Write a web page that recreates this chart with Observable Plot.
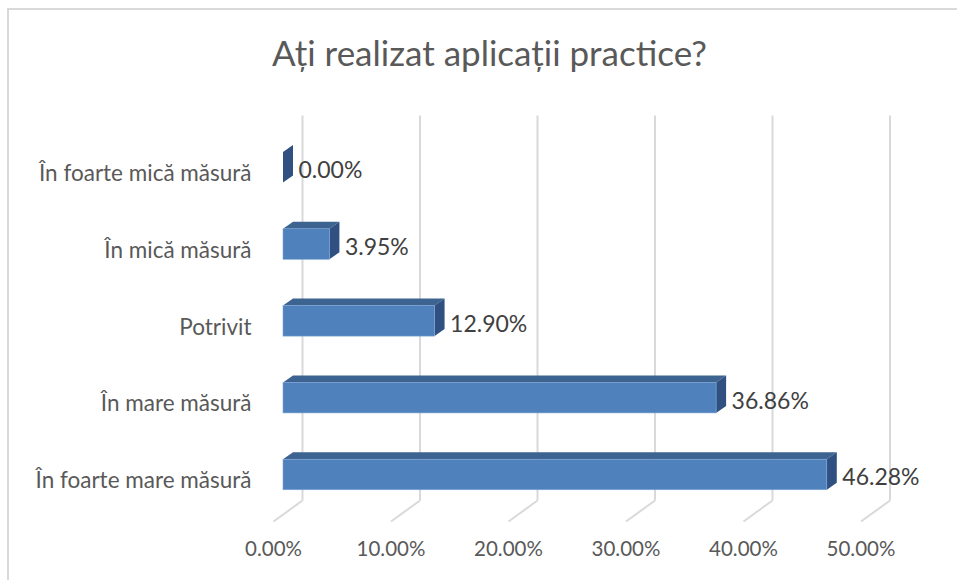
<!DOCTYPE html>
<html>
<head>
<meta charset="utf-8">
<script src="https://cdn.jsdelivr.net/npm/d3@7"></script>
<script src="https://cdn.jsdelivr.net/npm/@observablehq/plot@0.6"></script>
<style>
  html, body { margin: 0; padding: 0; background: #fff; }
  #wrap { position: relative; width: 957px; height: 580px; overflow: hidden; background: #fff; }
  #bl { position: absolute; left: 7px; top: 8px; width: 2px; height: 580px; background: #d9d9d9; }
  #bt { position: absolute; left: 7px; top: 8px; width: 960px; height: 2px; background: #d9d9d9; }
  #title { position: relative; height: 96px; box-sizing: border-box; padding-top: 35px; padding-left: 22px;
           text-align: center; font-family: Lato, sans-serif; font-size: 35px; line-height: 35px; color: #595959; }
  #chart svg { display: block; }
</style>
</head>
<body>
<div id="wrap">
  <div id="bl"></div><div id="bt"></div>
  <div id="title">Ați realizat aplicații practice?</div>
  <div id="chart"></div>
</div>
<script>
const categories = ["În foarte mică măsură", "În mică măsură", "Potrivit", "În mare măsură", "În foarte mare măsură"];
const values = [0.00, 3.95, 12.90, 36.86, 46.28];
const ticks = [0, 10, 20, 30, 40, 50];
const tickLabels = ["0.00%", "10.00%", "20.00%", "30.00%", "40.00%", "50.00%"];

// geometry helpers (pixel -> data units for the fixed scales below)
const X0 = 283, X1 = 870.5, Y0 = 71.2, Y1 = 378.5;
const kx = (X1 - X0) / 50, ky = (Y1 - Y0) / 4;
const yAt = py => (py - 96 - Y0) / ky;   // page y -> y data
const half = 15.25 / ky;                 // half bar height
const dxU = 10 / kx, dyU = 7 / ky;       // bar depth
const backU = 19 / kx;                   // back wall offset
const floorU = 10 / kx;                  // front floor offset

const bars = categories.map((c, i) => ({c, i, v: values[i]}));
const topFaces = bars.flatMap(d => [
  {id: d.i, y: d.i - half, x1: 0, x2: d.v},
  {id: d.i, y: d.i - half - dyU, x1: dxU, x2: d.v + dxU}
]);
const sideFaces = bars.flatMap(d => [
  {id: d.i, x: d.v, y1: d.i + half, y2: d.i - half},
  {id: d.i, x: d.v + dxU, y1: d.i + half - dyU, y2: d.i - half - dyU}
]);
const tickData = ticks.map((t, k) => ({t, label: tickLabels[k]}));

const gTop = yAt(115), gBot = yAt(500), gFloor = yAt(521), gLab = yAt(549);

const chart = Plot.plot({
  width: 957,
  height: 484,
  margin: 0,
  x: {domain: [0, 50], range: [X0, X1], axis: null},
  y: {domain: [0, 4], range: [Y0, Y1], axis: null},
  style: {fontFamily: "Lato, sans-serif", background: "transparent", overflow: "visible"},
  marks: [
    Plot.link(tickData, {x1: d => d.t + backU, x2: d => d.t + backU, y1: gTop, y2: gBot, stroke: "#d9d9d9", strokeWidth: 2}),
    Plot.link(tickData, {x1: d => d.t + backU, x2: d => d.t - floorU, y1: gBot, y2: gFloor, stroke: "#d9d9d9", strokeWidth: 2}),
    Plot.text(tickData, {x: d => d.t - floorU, y: gLab, text: "label", fill: "#595959", fontSize: 20.5}),
    Plot.text(bars, {x: 0, y: "i", text: "c", textAnchor: "end", dx: -32, dy: 6, fill: "#595959", fontSize: 22.5}),
    Plot.areaX(topFaces, {y: "y", x1: "x1", x2: "x2", z: "id", fill: "#3d6391"}),
    Plot.areaY(sideFaces, {x: "x", y1: "y1", y2: "y2", z: "id", fill: "#2f5080"}),
    Plot.rect(bars, {x1: 0, x2: "v", y1: d => d.i - half, y2: d => d.i + half, fill: "#4f81bd", stroke: "#7ea5d6", strokeWidth: 0.6}),
    Plot.text(bars, {x: d => d.v + dxU, y: "i", text: d => d.v.toFixed(2) + "%", textAnchor: "start", dx: 5, dy: 3, fill: "#404040", fontSize: 23})
  ]
});
document.getElementById("chart").appendChild(chart);
</script>
</body>
</html>
